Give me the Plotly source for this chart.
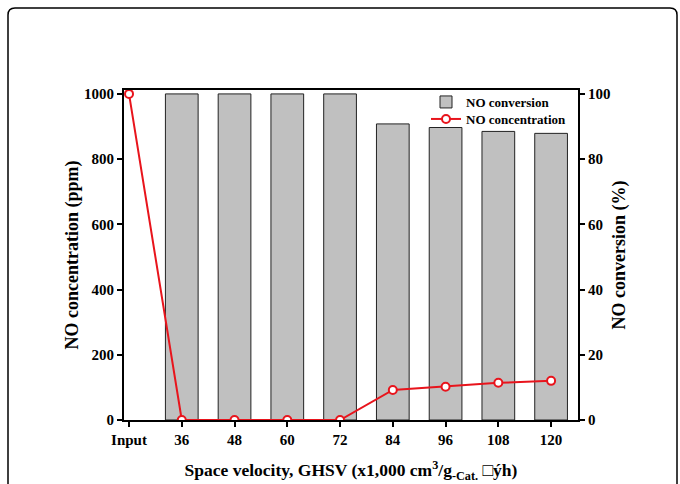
import plotly.graph_objects as go

categories = ["Input", "36", "48", "60", "72", "84", "96", "108", "120"]
no_conversion = [None, 100, 100, 100, 100, 90.8, 89.7, 88.5, 87.9]
no_concentration = [1000, 0, 0, 0, 0, 92, 102, 114, 120]

xpos = list(range(len(categories)))
FONT = "Liberation Serif"

fig = go.Figure()
fig.add_trace(go.Bar(
    x=xpos, y=no_conversion, name="<b>NO conversion</b>", yaxis="y", legend="legend",
    width=0.62, marker=dict(color="#c0c0c0", line=dict(color="#222222", width=1)),
))
fig.add_trace(go.Scatter(
    x=xpos, y=no_concentration, name="<b>NO concentration</b>", mode="lines+markers",
    yaxis="y2", legend="legend2",
    line=dict(color="#e8141c", width=2),
    marker=dict(symbol="circle", size=8, color="white", line=dict(color="#e8141c", width=2)),
))

W, H = 680, 484
L, R, T, B = 124, 578, 90, 420
pw, ph = R - L, B - T
def px(x): return (x - L) / pw
def py(y): return (B - y) / ph
x0, x1, y0, y1 = px(8), px(677), py(8), py(500)
rx, ry = 7 / pw, 7 / ph
path = (f"M {x0} {y1} L {x0} {y0 - ry} Q {x0} {y0} {x0 + rx} {y0} "
        f"L {x1 - rx} {y0} Q {x1} {y0} {x1} {y0 - ry} L {x1} {y1}")

axis_common = dict(showgrid=False, zeroline=False, showline=True, linecolor="black",
                   linewidth=2, ticks="outside", ticklen=5, tickwidth=2, tickcolor="black",
                   tickfont=dict(size=15), automargin=False)
leg_common = dict(xanchor="left", yanchor="top", bgcolor="rgba(0,0,0,0)",
                  font=dict(size=13, family=FONT), itemsizing="trace")

fig.update_layout(
    width=W, height=H,
    margin=dict(l=L, r=W - R, t=T, b=H - B),
    paper_bgcolor="white", plot_bgcolor="white",
    font=dict(family=FONT, color="black", size=15),
    showlegend=True,
    legend=dict(x=px(426), y=py(87), **leg_common),
    legend2=dict(x=px(426), y=py(104), **leg_common),
    xaxis=dict(
        range=[-0.095, 8.51], tickmode="array", tickvals=xpos,
        ticktext=[f"<b>{c}</b>" for c in categories], mirror=True,
        title=dict(text="<b>Space velocity, GHSV (x1,000 cm<sup>3</sup>/g<sub>-Cat.</sub> □ýh)</b>",
                   font=dict(size=17.5), standoff=17),
        **axis_common,
    ),
    yaxis=dict(
        range=[0, 101.2], side="right",
        tickvals=[0, 20, 40, 60, 80, 100],
        ticktext=[f"<b>{v}</b>" for v in [0, 20, 40, 60, 80, 100]],
        title=dict(text="<b>NO conversion (%)</b>", font=dict(size=18), standoff=3),
        **axis_common,
    ),
    yaxis2=dict(
        range=[0, 1012], overlaying="y", side="left",
        tickvals=[0, 200, 400, 600, 800, 1000],
        ticktext=[f"<b>{v}</b>" for v in [0, 200, 400, 600, 800, 1000]],
        title=dict(text="<b>NO concentration (ppm)</b>", font=dict(size=18), standoff=1),
        **axis_common,
    ),
    shapes=[dict(type="path", xref="paper", yref="paper", path=path,
                 line=dict(color="black", width=1.5), layer="above")],
)

fig.write_html("out.html", config={"displayModeBar": False},
               post_script="document.body.style.margin='0';")
